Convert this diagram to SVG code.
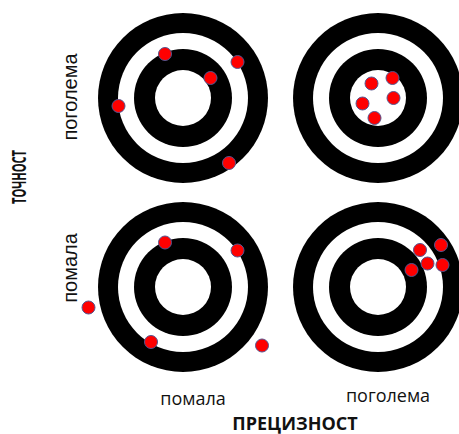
<svg xmlns="http://www.w3.org/2000/svg" width="459" height="434" viewBox="0 0 459 434">
<style>
.b{fill:#000}
.w{fill:#fff}
.d{fill:#ff0000;stroke:#55558f;stroke-width:1}
.lv{font-family:"Liberation Sans",Arial,sans-serif;font-size:20px;fill:#111}
.lh{font-family:"Open Sans","Noto Sans",sans-serif;font-size:18px;fill:#111}
.ax{font-family:"Open Sans","Noto Sans",sans-serif;font-size:18px;font-weight:bold;fill:#111}
</style>
<defs>
<g id="target">
<circle class="b" r="85"/>
<circle class="w" r="65"/>
<circle class="b" r="49"/>
<circle class="w" r="28"/>
</g>
</defs>
<rect width="459" height="434" fill="#fff"/>
<g id="target-tl">
<use href="#target" x="183" y="98"/>
<circle class="d" cx="165" cy="54" r="6.5"/>
<circle class="d" cx="237.5" cy="62" r="6.5"/>
<circle class="d" cx="210.5" cy="78" r="6.5"/>
<circle class="d" cx="118.5" cy="106" r="6.5"/>
<circle class="d" cx="229" cy="163" r="6.5"/>
</g>
<g id="target-tr">
<use href="#target" x="378" y="98"/>
<circle class="d" cx="371.5" cy="83.5" r="6.5"/>
<circle class="d" cx="392.5" cy="78" r="6.5"/>
<circle class="d" cx="393.5" cy="98" r="6.5"/>
<circle class="d" cx="362.5" cy="103.5" r="6.5"/>
<circle class="d" cx="374.5" cy="118" r="6.5"/>
</g>
<g id="target-bl">
<use href="#target" x="183" y="287"/>
<circle class="d" cx="165" cy="242.5" r="6.5"/>
<circle class="d" cx="237.5" cy="250.5" r="6.5"/>
<circle class="d" cx="88.5" cy="307.5" r="6.5"/>
<circle class="d" cx="151" cy="342" r="6.5"/>
<circle class="d" cx="262" cy="345.5" r="6.5"/>
</g>
<g id="target-br">
<use href="#target" x="378" y="287"/>
<circle class="d" cx="420" cy="250" r="6.5"/>
<circle class="d" cx="441" cy="245" r="6.5"/>
<circle class="d" cx="427.5" cy="263.5" r="6.5"/>
<circle class="d" cx="442.5" cy="265" r="6.5"/>
<circle class="d" cx="411.5" cy="270" r="6.5"/>
</g>
<g id="labels">
<text class="lv" text-anchor="middle" transform="translate(77,97) rotate(-90)">поголема</text>
<text class="lv" text-anchor="middle" transform="translate(77,268) rotate(-90)">помала</text>
<text class="lh" text-anchor="middle" x="193" y="405">помала</text>
<text class="lh" text-anchor="middle" x="388" y="402">поголема</text>
<text class="ax" text-anchor="middle" x="295" y="430">ПРЕЦИЗНОСТ</text>
<text class="ax" text-anchor="middle" style="font-size:20px" textLength="54" lengthAdjust="spacingAndGlyphs" transform="translate(26,177) rotate(-90)">ТОЧНОСТ</text>
</g>
</svg>
